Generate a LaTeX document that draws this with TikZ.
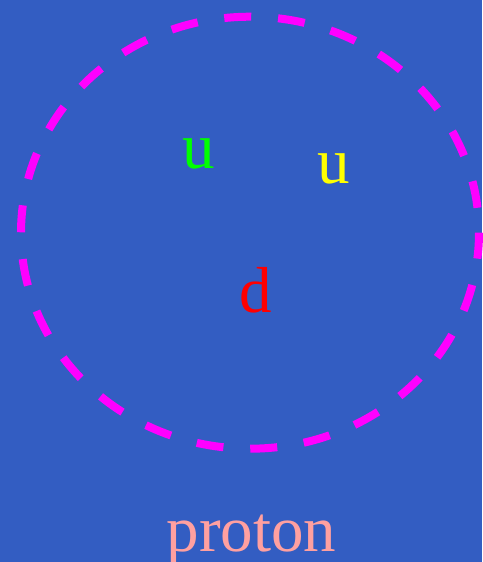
\documentclass[tikz,border=0pt]{standalone}
\usepackage{fontspec}
\setmainfont{Liberation Serif}
\definecolor{sky}{RGB}{51,93,194}
\definecolor{fuchsia}{RGB}{255,0,255}
\definecolor{lime}{RGB}{0,255,0}
\definecolor{lemon}{RGB}{255,255,0}
\definecolor{scarlet}{RGB}{255,0,0}
\definecolor{blush}{RGB}{255,160,160}
\tikzset{
  quark/.style={font=\fontsize{65}{70}\selectfont,text=#1,anchor=base,inner sep=0pt},
  quark/.default=lime,
  shell/.style={draw=fuchsia,line width=8pt,dash pattern=on 27pt off 26.9pt,dash phase=28.9pt},
}
\begin{document}
\begin{tikzpicture}
    % background and frame
    \fill[sky] (0,0) rectangle (482pt,-562pt);
    \useasboundingbox (0,0) rectangle (482pt,-562pt);
    \draw[shell] (250pt,-232.7pt) ellipse [x radius=229pt,y radius=216pt];
    % quarks
    \node[quark=lime] (up1) at (198.5pt,-168pt) {u};
    \node[quark=lemon] (up2) at (333.5pt,-183pt) {u};
    \node[quark=scarlet] (down) at (255.5pt,-312pt) {d};
    \node[quark=blush] (name) at (251.5pt,-551.5pt) {proton};
\end{tikzpicture}
\end{document}
